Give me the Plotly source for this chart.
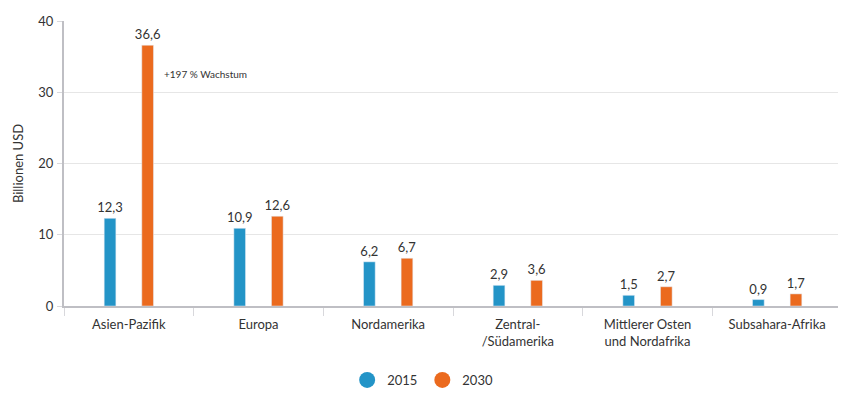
import plotly.graph_objects as go

categories = ["Asien-Pazifik", "Europa", "Nordamerika", "Zentral-<br>/Südamerika",
              "Mittlerer Osten<br>und Nordafrika", "Subsahara-Afrika"]
values_2015 = [12.3, 10.9, 6.2, 2.9, 1.5, 0.9]
values_2030 = [36.6, 12.6, 6.7, 3.6, 2.7, 1.7]
series_names = ["2015", "2030"]
annotation_text = "+197 % Wachstum"

blue = "#2394C7"
orange = "#EB6A1E"
font_color = "#333333"
font_family = "Lato, 'Noto Sans', sans-serif"

fig = go.Figure()
for name, vals, col, off in [(series_names[0], values_2015, blue, -0.19),
                             (series_names[1], values_2030, orange, 0.10)]:
    fig.add_trace(go.Bar(
        x=categories, y=vals, name=name, marker_color=col, width=0.09, offset=off,
        texttemplate="%{y:.1f}", textposition="outside", cliponaxis=False,
        constraintext="none",
        textfont=dict(size=13, color=font_color), showlegend=False,
    ))
    fig.add_trace(go.Scatter(
        x=[None], y=[None], mode="markers", name=name,
        marker=dict(symbol="circle", size=16, color=col), showlegend=True,
    ))

fig.add_annotation(x=categories[0], y=values_2030[0] * 0.89, xshift=33, text=annotation_text,
                   showarrow=False, xanchor="left", yanchor="middle",
                   font=dict(size=10, color=font_color, family=font_family))

fig.update_layout(
    width=838, height=390,
    margin=dict(l=56, r=4, t=13, b=91),
    plot_bgcolor="white", paper_bgcolor="white",
    separators=",.",
    font=dict(family=font_family, color=font_color, size=13),
    barmode="overlay",
    legend=dict(orientation="h", x=0.461, xanchor="center", y=-0.255, yanchor="middle",
                font=dict(size=13, color=font_color), itemwidth=30),
    xaxis=dict(showline=True, linecolor="#BFBFC4", linewidth=2, ticks="outside",
               tickson="boundaries", ticklen=8, tickcolor="#D8D8DC", automargin=False,
               ticklabelstandoff=5,
               tickfont=dict(size=13, color=font_color), showgrid=False),
    yaxis=dict(range=[0, 40], dtick=10, showline=True, linecolor="#BFBFC4", linewidth=2,
               ticks="outside", ticklen=5, tickcolor="#D8D8DC", gridcolor="#E6E6E6",
               zeroline=False, tickfont=dict(size=13, color=font_color), automargin=False,
               ticklabelstandoff=1,
               title=dict(text="Billionen USD", font=dict(size=13, color=font_color), standoff=12)),
)

fig.write_html("out.html")
